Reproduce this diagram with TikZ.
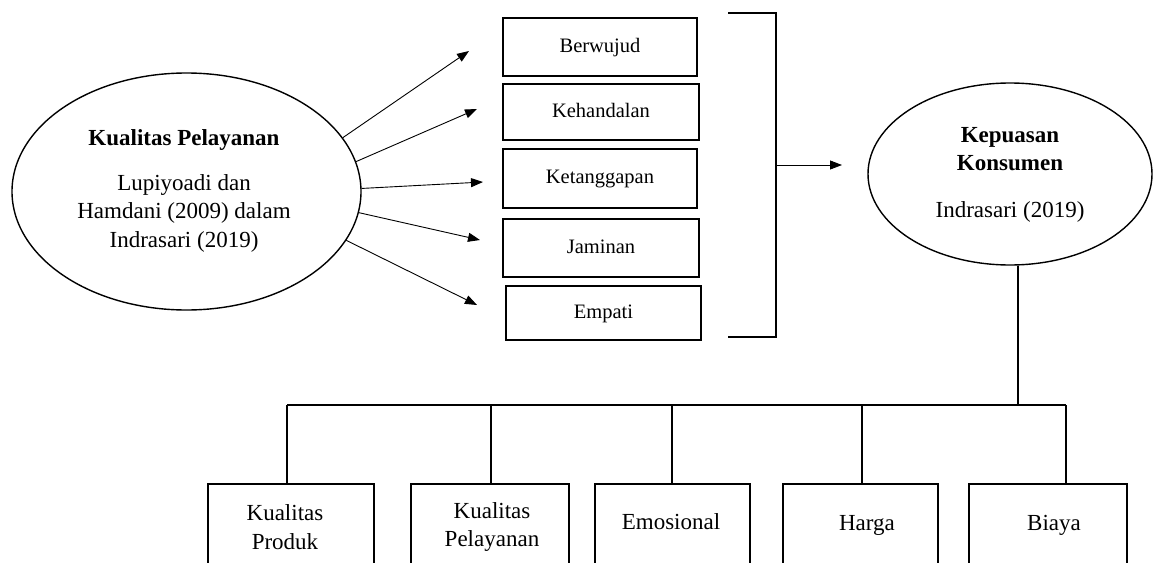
\documentclass[tikz,border=0pt]{standalone}
\usepackage{fontspec}
\setmainfont{Liberation Serif}
\usetikzlibrary{shapes.geometric,arrows.meta}
\begin{document}
\begin{tikzpicture}[x=1pt,y=-1pt,
  ell/.style={draw, ellipse, line width=1.4pt, inner sep=0pt},
  dimbox/.style={draw, line width=1.6pt, inner sep=0pt, text height=14pt, text depth=4pt,
    font=\fontsize{20.5}{24}\selectfont},
  subbox/.style={draw, line width=1.6pt, inner sep=0pt, anchor=north west},
  lbl/.style={font=\fontsize{23}{28}\selectfont, anchor=base, inner sep=0pt},
  lblb/.style={font=\fontsize{23}{28}\selectfont\bfseries, anchor=base, inner sep=0pt},
  arr/.style={-{Triangle[length=12pt,width=9pt]}, line width=0.9pt},
  ln/.style={line width=1.5pt}]
\useasboundingbox (0,0) rectangle (1153,562);

% left ellipse
\node[ell, minimum width=349pt, minimum height=237pt] (L) at (186.5,191.5) {};
\node[lblb] (Lt) at (184,145) {Kualitas Pelayanan};
\node[lbl] (L1) at (184,190) {Lupiyoadi dan};
\node[lbl] (L2) at (184,218) {Hamdani (2009) dalam};
\node[lbl] (L3) at (184,247) {Indrasari (2019)};

% dimension boxes
\node[dimbox, minimum width=194pt, minimum height=58pt] (D1) at (600,47) {Berwujud};
\node[dimbox, minimum width=196pt, minimum height=56pt] (D2) at (601,112) {Kehandalan};
\node[dimbox, minimum width=194pt, minimum height=59pt] (D3) at (600,178.5) {Ketanggapan};
\node[dimbox, minimum width=196pt, minimum height=58pt] (D4) at (601,248) {Jaminan};
\node[dimbox, minimum width=195pt, minimum height=54pt] (D5) at (603.5,313) {Empati};

% arrows
\coordinate (t1) at (469,51);
\coordinate (t2) at (477,109);
\coordinate (t3) at (483,182);
\coordinate (t4) at (480,240);
\coordinate (t5) at (477,305);
\draw[arr] (L.19.9) -- (t1);
\draw[arr] (L.10.5) -- (t2);
\draw[arr] (L.1.1) -- (t3);
\draw[arr] (L.-7.5) -- (t4);
\draw[arr] (L.-17.8) -- (t5);

% bracket
\coordinate (k1) at (728,13);
\coordinate (k2) at (776,13);
\coordinate (k3) at (776,337);
\coordinate (k4) at (728,337);
\coordinate (km) at (776,165);
\coordinate (kt) at (842,165);
\draw[ln, line width=1.3pt] (k1) -- (k2) -- (k3) -- (k4);
\draw[arr] (km) -- (kt);

% right ellipse
\node[ell, minimum width=284pt, minimum height=182pt] (R) at (1010,174) {};
\node[lblb] (R1) at (1010,142) {Kepuasan};
\node[lblb] (R2) at (1010,170) {Konsumen};
\node[lbl] (R3) at (1010,217) {Indrasari (2019)};

% bottom boxes
\node[subbox, minimum width=166pt, minimum height=120pt] (B1) at (207,483) {};
\node[subbox, minimum width=158pt, minimum height=120pt] (B2) at (410,483) {};
\node[subbox, minimum width=155pt, minimum height=120pt] (B3) at (594,483) {};
\node[subbox, minimum width=155pt, minimum height=120pt] (B4) at (782,483) {};
\node[subbox, minimum width=158pt, minimum height=120pt] (B5) at (968,483) {};
\node[lbl] (B1a) at (285,520) {Kualitas};
\node[lbl] (B1b) at (285,549) {Produk};
\node[lbl] (B2a) at (492,518) {Kualitas};
\node[lbl] (B2b) at (492,546) {Pelayanan};
\node[lbl] (B3a) at (671,529) {Emosional};
\node[lbl] (B4a) at (867,530) {Harga};
\node[lbl] (B5a) at (1054,530) {Biaya};

% tree connectors
\coordinate (bus) at (1018,405);
\coordinate (d1) at (287,405);
\coordinate (d2) at (491,405);
\coordinate (d3) at (672,405);
\coordinate (d4) at (862,405);
\coordinate (d5) at (1066,405);
\draw[ln] (R.south -| bus) -- (bus);
\draw[ln] (d1) -- (d5);
\draw[ln] (d1) -- (d1 |- B1.north);
\draw[ln] (d2) -- (d2 |- B2.north);
\draw[ln] (d3) -- (d3 |- B3.north);
\draw[ln] (d4) -- (d4 |- B4.north);
\draw[ln] (d5) -- (d5 |- B5.north);
\end{tikzpicture}
\end{document}
